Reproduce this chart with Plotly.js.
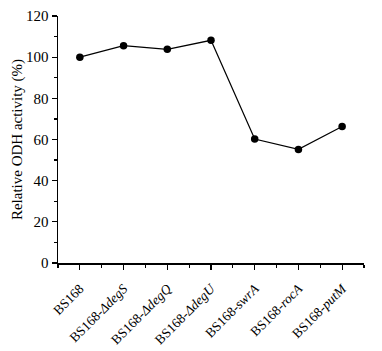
<!DOCTYPE html>
<html>
<head>
<meta charset="utf-8">
<script src="https://cdn.plot.ly/plotly-3.0.1.min.js"></script>
<style>html,body{margin:0;padding:0;background:#fff;}#chart{width:382px;height:351px;}</style>
</head>
<body>
<div id="chart"></div>
<script>
const strains = ['BS168', 'BS168-ΔdegS', 'BS168-ΔdegQ', 'BS168-ΔdegU', 'BS168-swrA', 'BS168-rocA', 'BS168-putM'];
const tickLabels = ['BS168', 'BS168-<i>ΔdegS</i>', 'BS168-<i>ΔdegQ</i>', 'BS168-<i>ΔdegU</i>', 'BS168-<i>swrA</i>', 'BS168-<i>rocA</i>', 'BS168-<i>putM</i>'];
const activity = [100, 105.6, 103.8, 108.2, 60.2, 55.2, 66.3];
const yTicks = [0, 20, 40, 60, 80, 100, 120];

const positions = strains.map((s, i) => i);

const font = {family: '"Liberation Serif", "Times New Roman", serif', color: '#000', size: 15};

Plotly.newPlot('chart', [{
  x: positions,
  y: activity,
  text: strains,
  type: 'scatter',
  mode: 'lines+markers',
  line: {color: '#000', width: 1.2},
  marker: {color: '#000', size: 7.5},
  hoverinfo: 'text+y'
}], {
  width: 382, height: 351,
  margin: {l: 58, r: 18, t: 16, b: 88},
  paper_bgcolor: '#fff', plot_bgcolor: '#fff',
  showlegend: false,
  font: font,
  xaxis: {
    range: [-0.5, 6.5],
    tickvals: positions, ticktext: tickLabels,
    tickangle: -45,
    ticklabelstandoff: 6,
    showgrid: false, zeroline: false,
    showline: true, linecolor: '#000', linewidth: 1.5,
    ticks: 'outside', ticklen: 5, tickwidth: 1.2, tickcolor: '#000',
    minor: {tick0: -0.5, dtick: 0.5, ticks: 'outside', ticklen: 3, tickwidth: 1.2, tickcolor: '#000', showgrid: false},
    tickfont: {family: font.family, size: 13.5, color: '#000'}
  },
  yaxis: {
    range: [0, 120],
    tickvals: yTicks,
    showgrid: false, zeroline: false,
    showline: true, linecolor: '#000', linewidth: 1.5,
    ticks: 'outside', ticklen: 5, tickwidth: 1.2, tickcolor: '#000',
    minor: {dtick: 10, ticks: 'outside', ticklen: 3, tickwidth: 1.2, tickcolor: '#000', showgrid: false},
    tickfont: {family: font.family, size: 15, color: '#000'},
    title: {text: 'Relative ODH activity (%)', font: {family: font.family, size: 15, color: '#000'}, standoff: 0}
  }
}, {displayModeBar: false, staticPlot: true});
</script>
</body>
</html>
